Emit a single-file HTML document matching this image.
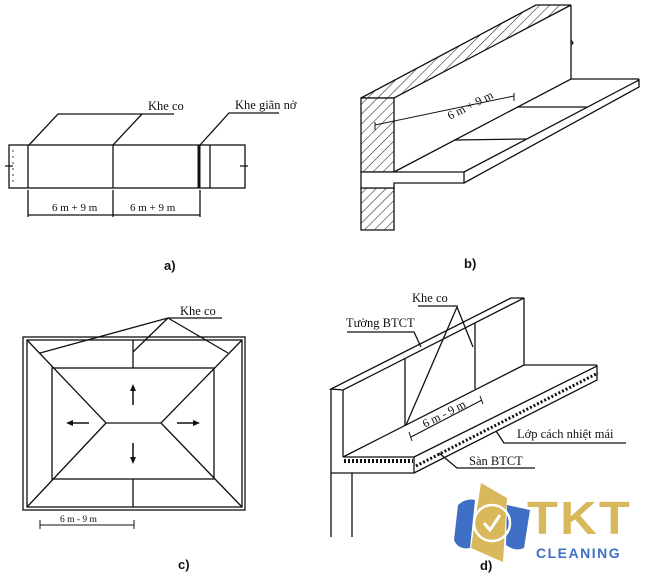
<!DOCTYPE html>
<html><head><meta charset="utf-8"><style>
html,body{margin:0;padding:0;background:#fff}
svg{display:block}
text{font-family:"Liberation Serif",serif;fill:#111}
.s{font-family:"Liberation Sans",sans-serif;font-weight:bold}
</style></head><body>
<svg width="648" height="579" viewBox="0 0 648 579" xmlns="http://www.w3.org/2000/svg">
<defs>
<pattern id="h" width="7" height="7" patternUnits="userSpaceOnUse" patternTransform="rotate(45)">
<rect width="7" height="7" fill="#fff"/><line x1="0" y1="0" x2="0" y2="7" stroke="#222" stroke-width="1.1"/>
</pattern>
</defs>
<g stroke="#111" stroke-width="1.3" fill="none">
<!-- a -->
<rect x="9" y="145" width="236" height="43"/>
<line x1="28" y1="145" x2="28" y2="188"/>
<line x1="113" y1="145" x2="113" y2="188"/>
<line x1="199" y1="145" x2="199" y2="188" stroke-width="3"/>
<line x1="210" y1="145" x2="210" y2="188"/>
<line x1="13" y1="150" x2="13" y2="185" stroke-dasharray="2 4" stroke-width="0.8"/>
<path d="M5 166h8M240 166h8"/>
<path d="M29 145L58 114H174M113 145L142 114M200 145L229 113H279"/>
<path d="M28 190V217M113 190V217M200 190V217M28 215H200"/>
<!-- b -->
<polygon points="361,98 536,5 571,5 394,98" fill="url(#h)"/>
<rect x="361" y="98" width="33" height="74" fill="url(#h)"/>
<polygon points="361,188 394,188 394,230 361,230" fill="url(#h)"/>
<path d="M361 172H464V183H394V188H361Z" fill="#fff"/>
<path d="M571 5V79M394 172L571 79H639M464 172L639 80V87L464 183"/>
<path d="M454 140L526 139M517 107L587 107"/>
<path d="M375 125L514 96M375 122V130M514 93V101" stroke-width="1"/>
<path d="M571 40l2 3-2 2"/>
<!-- c -->
<rect x="23" y="337" width="222" height="173"/>
<rect x="27" y="340" width="215" height="167"/>
<rect x="52" y="368" width="162" height="111"/>
<path d="M27 340L106 423H161L242 340M27 507L106 423M161 423L242 507"/>
<path d="M133 340V368M133 479V507"/>
<path d="M168 318H222M168 318L40 353M168 318L133 352M168 318L228 353"/>
<path d="M40 520V529M134 520V529M40 525H134" stroke-width="1"/>
<path d="M133 405V390M133 443V458M89 423H72M177 423H194" stroke-width="1.5"/>
<!-- d -->
<polygon points="331,389 511,298 524,298 343,390" fill="#fff"/>
<path d="M331 389V537M343 390V457M524 298V365H597M343 457L524 365M343 457H414V473H352V537M414 457L597 366V380L414 473M331 473H352"/>
<path d="M405 358V425M475 323V389"/>
<path d="M457 307L406 425M457 307L473 347M418 306H458"/>
<path d="M409 432L412 441M480 396L483 404M411 437L482 400" stroke-width="1"/>
<path d="M347 332H414L421 347M496 431L504 443H626M439 453L457 468H535"/>
<path d="M416 466L598 373" stroke-dasharray="2 2" stroke-width="3"/>
<path d="M344 461H413" stroke-dasharray="2 2" stroke-width="4"/>
</g>
<g fill="#111">
<path d="M133 384l-3 7h6zM133 464l-3-7h6zM66 423l7-3v6zM200 423l-7-3v6z"/>
</g>
<g font-size="12.5">
<text x="148" y="110">Khe co</text>
<text x="235" y="109">Khe giãn nở</text>
<text x="52" y="211" font-size="11">6 m + 9 m</text>
<text x="130" y="211" font-size="11">6 m + 9 m</text>
<text x="180" y="315">Khe co</text>
<text x="60" y="522" font-size="9.5">6 m - 9 m</text>
<text transform="translate(450,120) rotate(-27)" font-size="12">6 m + 9 m</text>
<text transform="translate(425,428) rotate(-27)" font-size="12">6 m - 9 m</text>
<text x="412" y="302">Khe co</text>
<text x="346" y="327">Tường BTCT</text>
<text x="517" y="438">Lớp cách nhiệt mái</text>
<text x="469" y="465">Sàn BTCT</text>
</g>
<g font-size="13" class="s">
<text class="s" x="164" y="270">a)</text>
<text class="s" x="464" y="268">b)</text>
<text class="s" x="178" y="569">c)</text>
<text class="s" x="480" y="570">d)</text>
</g>
<!-- logo -->
<path d="M458 505Q466 498 475 500L470 548Q458 550 454 540Z" fill="#3f6fc4"/>
<path d="M507 505L530 510L524 548Q515 552 506 545Z" fill="#3f6fc4"/>
<path d="M481 483L507 498L503 562L471 548Z" fill="#d8b85a"/>
<circle cx="492" cy="523" r="18" fill="none" stroke="#fff" stroke-width="2.5"/>
<path d="M484 523l6 7 10-15" fill="none" stroke="#fff" stroke-width="3"/>
<text class="s" x="527" y="534" font-size="46" transform="translate(527,0) scale(1.1,1) translate(-527,0)" style="fill:#d8b85a;letter-spacing:2px">TKT</text>
<text class="s" x="536" y="558" font-size="14" style="fill:#3f6fc4;letter-spacing:1.5px">CLEANING</text>
</svg>
</body></html>
